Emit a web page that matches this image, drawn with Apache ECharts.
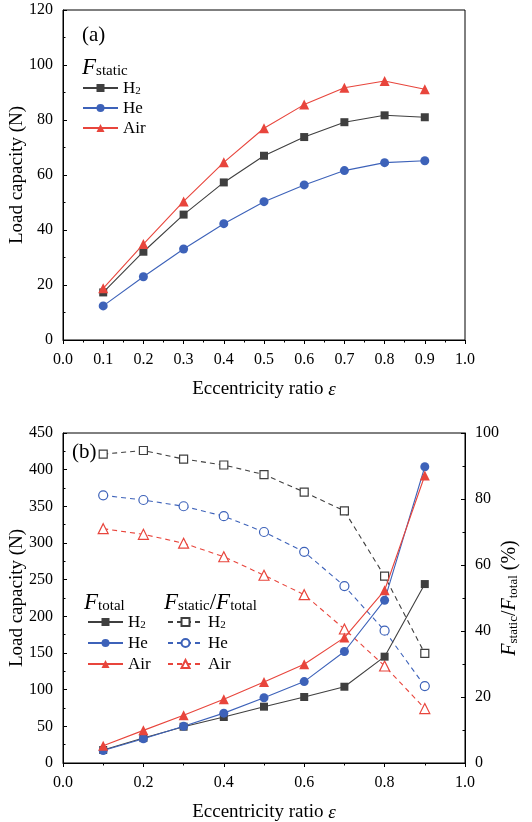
<!DOCTYPE html>
<html>
<head>
<meta charset="utf-8">
<script src="https://cdn.jsdelivr.net/npm/echarts@6/dist/echarts.min.js"></script>
<style>html,body{margin:0;padding:0;background:#fff}#c{width:532px;height:822px}</style>
</head>
<body>
<div id="c"></div>
<script>
const eps = [0.1, 0.2, 0.3, 0.4, 0.5, 0.6, 0.7, 0.8, 0.9];
const staticH2 = [17.3, 32.1, 45.6, 57.3, 67.0, 73.8, 79.2, 81.7, 81.0];
const staticHe = [12.4, 23.0, 33.1, 42.3, 50.3, 56.4, 61.6, 64.5, 65.2];
const staticAir = [18.8, 34.9, 50.4, 64.6, 77.0, 85.6, 91.7, 94.2, 91.2];
const totalH2 = [17.7, 34, 49.5, 62.7, 76.8, 90, 104, 145, 244];
const totalHe = [17, 33, 50, 68, 89, 111, 152, 222, 404];
const totalAir = [23.6, 44.5, 65, 87, 110.5, 134.6, 171, 235.5, 392];
const ratioH2 = [93.6, 94.7, 92.1, 90.3, 87.4, 82.1, 76.4, 56.6, 33.2];
const ratioHe = [81.1, 79.7, 77.8, 74.8, 70.0, 64.0, 53.6, 40.1, 23.3];
const ratioAir = [71.0, 69.3, 66.6, 62.5, 56.9, 51.0, 40.6, 29.4, 16.5];
const topYTicks = [0, 120, 20];
const botYTicks = [0, 450, 50];
const rightYTicks = [0, 100, 20];

const FONT = 'Liberation Serif';
const C_H2 = '#3f3f3f', C_HE = '#3d62b9', C_AIR = '#e8453c';
const pairs = arr => arr.map((v, i) => [eps[i], v]);

const richSub = {
  m: {fontFamily: FONT, fontSize: 17, lineHeight: 18, verticalAlign: 'bottom', color: '#000'},
  sub: {fontFamily: FONT, fontSize: 11, lineHeight: 6, padding: [12, 0, 0, 0], verticalAlign: 'bottom', color: '#000'}
};
const labelMap = {
  sH2: '{m|H}{sub|2}', sHe: '{m|He}', sAir: '{m|Air}',
  tH2: '{m|H}{sub|2}', tHe: '{m|He}', tAir: '{m|Air}',
  rH2: '{m|H}{sub|2}', rHe: '{m|He}', rAir: '{m|Air}'
};
const titleRich = {
  i: {fontFamily: FONT, fontStyle: 'italic', fontSize: 23, lineHeight: 24, verticalAlign: 'bottom', color: '#000'},
  s: {fontFamily: FONT, fontSize: 15, lineHeight: 11, padding: [13, 0, 0, 0], verticalAlign: 'bottom', color: '#000'},
  n: {fontFamily: FONT, fontSize: 23, lineHeight: 24, verticalAlign: 'bottom', color: '#000'}
};

function xAx(gi, interval, gap) {
  return {
    type: 'value', gridIndex: gi, min: 0, max: 1, interval: interval,
    name: '{t|Eccentricity ratio }{e|ε}', nameLocation: 'middle', nameGap: gap,
    nameTextStyle: {rich: {t: {fontFamily: FONT, fontSize: 19, color: '#000'}, e: {fontFamily: FONT, fontStyle: 'italic', fontSize: 19, color: '#000'}}},
    axisLine: {show: true, onZero: false, lineStyle: {color: '#000', width: 1}},
    axisTick: {show: true, inside: false, length: 4, lineStyle: {color: '#000'}},
    minorTick: {show: true, splitNumber: 2, length: 2.5, lineStyle: {color: '#000'}},
    splitLine: {show: false},
    axisLabel: {fontFamily: FONT, fontSize: 16, color: '#000', margin: 12, formatter: v => v.toFixed(1)}
  };
}
function yAx(gi, t, pos, extra) {
  return Object.assign({
    type: 'value', gridIndex: gi, position: pos, min: t[0], max: t[1], interval: t[2],
    nameLocation: 'middle', nameRotate: 90, nameMoveOverlap: false,
    axisLine: {show: true, onZero: false, lineStyle: {color: '#000', width: 1}},
    axisTick: {show: true, inside: true, length: 4, lineStyle: {color: '#000'}},
    minorTick: {show: true, splitNumber: 2, length: 2.5, lineStyle: {color: '#000'}},
    splitLine: {show: false},
    axisLabel: {fontFamily: FONT, fontSize: 16, color: '#000', margin: 10}
  }, extra);
}
function ser(name, data, xi, yi, color, symbol, size, dashed) {
  return {
    name: name, type: 'line', xAxisIndex: xi, yAxisIndex: yi, data: pairs(data),
    symbol: symbol, symbolSize: size, showSymbol: true,
    lineStyle: {color: color, width: 1.1, type: dashed ? [5, 4] : 'solid'},
    itemStyle: {color: dashed ? '#fff' : color, borderColor: color, borderWidth: dashed ? 1.2 : 0},
    emphasis: {disabled: true}, z: dashed ? 2 : 3
  };
}
function leg(data, left, top, gap) {
  return {
    data: data, orient: 'vertical', left: left, top: top, itemWidth: 35, itemHeight: 10, itemGap: gap,
    selectedMode: false, padding: 0,
    formatter: n => labelMap[n], textStyle: {rich: richSub}
  };
}

const chart = echarts.init(document.getElementById('c'), null, {renderer: 'canvas'});
chart.setOption({
  animation: false,
  backgroundColor: '#fff',
  grid: [
    {left: 63, right: 67, top: 10, height: 330, show: true, borderColor: '#000', borderWidth: 1, backgroundColor: 'transparent', containLabel: false, outerBoundsMode: 'none'},
    {left: 63, right: 67, top: 433, height: 330, show: true, borderColor: '#000', borderWidth: 1, backgroundColor: 'transparent', containLabel: false, outerBoundsMode: 'none'}
  ],
  xAxis: [xAx(0, 0.1, 40), xAx(1, 0.2, 40)],
  yAxis: [
    yAx(0, topYTicks, 'left', {name: 'Load capacity (N)', nameGap: 36, nameTextStyle: {fontFamily: FONT, fontSize: 19, color: '#000'}}),
    yAx(1, botYTicks, 'left', {name: 'Load capacity (N)', nameGap: 36, nameTextStyle: {fontFamily: FONT, fontSize: 19, color: '#000'}}),
    yAx(1, rightYTicks, 'right', {name: '{i|F}{s|static}{n|/}{i|F}{s|total}{n| (%)}', nameGap: 35, nameRotate: 90, nameTextStyle: {rich: {
      i: {fontFamily: FONT, fontStyle: 'italic', fontSize: 20, lineHeight: 20, verticalAlign: 'bottom', color: '#000'},
      s: {fontFamily: FONT, fontSize: 13, lineHeight: 9, padding: [11, 0, 0, 0], verticalAlign: 'bottom', color: '#000'},
      n: {fontFamily: FONT, fontSize: 20, lineHeight: 20, verticalAlign: 'bottom', color: '#000'}
    }}})
  ],
  legend: [
    leg(['sH2', 'sHe', 'sAir'], 82, 74, 3),
    leg(['tH2', 'tHe', 'tAir'], 87, 608, 4),
    leg(['rH2', 'rHe', 'rAir'], 167, 608, 4)
  ],
  graphic: [
    {type: 'text', left: 82, top: 25, style: {text: '(a)', fontFamily: FONT, fontSize: 21, fill: '#000'}},
    {type: 'text', left: 72, top: 442, style: {text: '(b)', fontFamily: FONT, fontSize: 21, fill: '#000'}},
    {type: 'text', left: 82, top: 51, style: {text: '{i|F}{s|static}', rich: titleRich}},
    {type: 'text', left: 84, top: 586, style: {text: '{i|F}{s|total}', rich: titleRich}},
    {type: 'text', left: 164, top: 586, style: {text: '{i|F}{s|static}{n|/}{i|F}{s|total}', rich: titleRich}}
  ],
  series: [
    ser('sH2', staticH2, 0, 0, C_H2, 'rect', 8, false),
    ser('sHe', staticHe, 0, 0, C_HE, 'circle', 9, false),
    ser('sAir', staticAir, 0, 0, C_AIR, 'triangle', 10, false),
    ser('tH2', totalH2, 1, 1, C_H2, 'rect', 8, false),
    ser('tHe', totalHe, 1, 1, C_HE, 'circle', 9, false),
    ser('tAir', totalAir, 1, 1, C_AIR, 'triangle', 10, false),
    ser('rH2', ratioH2, 1, 2, C_H2, 'rect', 8, true),
    ser('rHe', ratioHe, 1, 2, C_HE, 'circle', 9, true),
    ser('rAir', ratioAir, 1, 2, C_AIR, 'triangle', 10, true)
  ]
});
</script>
</body>
</html>
